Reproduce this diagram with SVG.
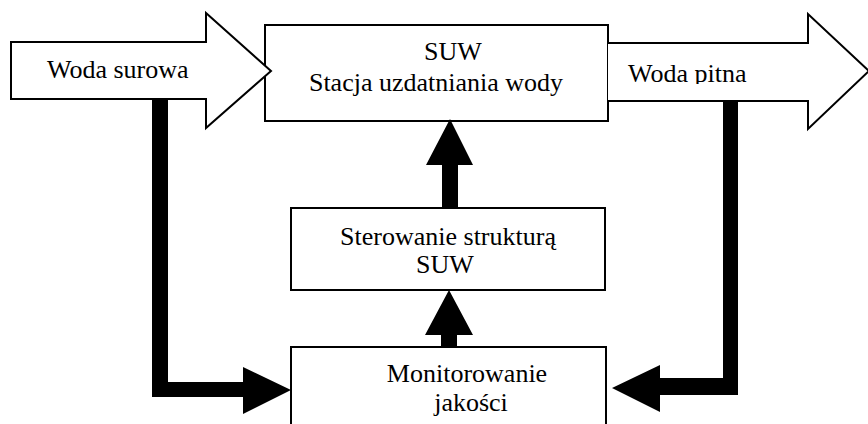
<svg xmlns="http://www.w3.org/2000/svg" width="868" height="424" viewBox="0 0 868 424">
<style>
.box{fill:#fff;stroke:#000;stroke-width:2}
.big{fill:#fff;stroke:#000;stroke-width:2;stroke-linejoin:miter}
.t{font-family:"Liberation Serif","Times New Roman",serif;font-size:26px;fill:#000}
.c{text-anchor:middle}
.fat{fill:#000;stroke:none}
</style>
<defs>
<clipPath id="clipR"><rect x="608" y="0" width="260" height="84"/></clipPath>
</defs>
<rect width="868" height="424" fill="#fff"/>
<g id="suw">
<rect class="box" x="265" y="25" width="343" height="96"/>
<text class="t c" x="453" y="60">SUW</text>
<text class="t c" x="436" y="91">Stacja uzdatniania wody</text>
</g>
<g id="woda-surowa">
<polygon class="big" points="11,42 206,42 206,13 271,71 206,128 206,99 11,99"/>
<text class="t" x="47" y="78">Woda surowa</text>
</g>
<g id="woda-pitna">
<polyline class="big" points="608,43 808,43 808,14 869,71 808,129 808,101 608,101"/>
<text class="t" x="628" y="82" clip-path="url(#clipR)">Woda pitna</text>
</g>
<g id="sterowanie">
<rect class="box" x="291" y="208" width="314" height="82"/>
<text class="t c" x="448" y="245">Sterowanie strukturą</text>
<text class="t c" x="445" y="273">SUW</text>
</g>
<g id="monitorowanie">
<rect class="box" x="291" y="347" width="315" height="90"/>
<text class="t c" x="467" y="382">Monitorowanie</text>
<text class="t c" x="471" y="411">jakości</text>
</g>
<g id="connectors">
<polygon class="fat" points="442,208 458,208 458,165 473,165 450,119 426,165 442,165"/>
<polygon class="fat" points="441,347 457,347 457,335 473,335 449,290 425,335 441,335"/>
<polygon class="fat" points="152,100 168,100 168,382 243,382 243,367 291,390 243,414 243,397 152,397"/>
<polygon class="fat" points="723,102 738,102 738,395 660,395 660,412 612,388 660,365 660,378 723,378"/>
</g>
</svg>
